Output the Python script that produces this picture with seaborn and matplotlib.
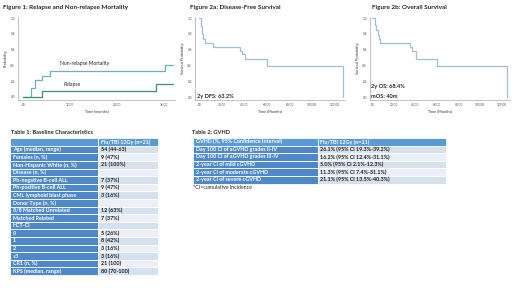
import matplotlib
matplotlib.use('Agg')
import matplotlib.pyplot as plt
from matplotlib.ticker import FuncFormatter
import seaborn as sns

# Figure 1: cumulative incidence, time in months
nrm_time = [0, 2.0, 3.1, 5.0, 7.0, 36.1, 38.2]
nrm_prob = [0, 0.12, 0.22, 0.27, 0.33, 0.40, 0.40]
rel_time = [0, 5.0, 34.0, 38.2]
rel_prob = [0, 0.07, 0.165, 0.165]

# Figure 2a / 2b: Kaplan-Meier estimates
dfs_time = [0, 1.5, 2.6, 3.8, 5.3, 12.6, 36.2, 37.7, 40.6, 60.3, 126.8]
dfs_surv = [1.0, 0.90, 0.80, 0.74, 0.68, 0.632, 0.59, 0.55, 0.48, 0.39, 0.0]
os_time = [0, 2.5, 3.4, 5.0, 6.2, 7.1, 35.0, 36.5, 40.2, 60.3, 124.7]
os_surv = [1.0, 0.91, 0.85, 0.79, 0.73, 0.684, 0.64, 0.58, 0.48, 0.39, 0.0]

# Table 1
t1_labels = ['', 'Age (median, range)', 'Females (n, %)', 'Non-Hispanic White (n, %)',
             'Disease (n, %)', 'Ph-negative B-cell ALL', 'Ph-positive B-cell ALL',
             'CML lymphoid blast phase', 'Donor Type (n, %)', '8/8 Matched Unrelated',
             'Matched Related', 'HCT-CI', '0', '1', '2', '\u22653', 'CR1 (n, %)',
             'KPS (median, range)']
t1_values = ['Flu/TBI 12Gy (n=21)', '54 (44-63)', '9 (47%)', '21 (100%)', '',
             '7 (37%)', '9 (47%)', '3 (16%)', '', '12 (63%)', '7 (37%)', '',
             '5 (26%)', '8 (42%)', '3 (16%)', '3 (16%)', '21 (100)', '80 (70-100)']

# Table 2
t2_labels = ['GVHD (%, 95% Confidence Interval)', 'Day 100 CI of aGVHD grades II-IV',
             'Day 100 CI of aGVHD grades III-IV', '2-year CI of mild cGVHD',
             '2-year CI of moderate cGVHD', '2-year CI of severe cGVHD']
t2_values = ['Flu/TBI 12Gy (n=21)', '26.1% (95% CI 19.3%-39.2%)',
             '16.2% (95% CI 12.4%-31.1%)', '5.0% (95% CI 2.1%-12.3%)',
             '11.3% (95% CI 7.4%-31.1%)', '21.1% (95% CI 13.5%-40.3%)']

sns.set_style('white')
plt.rcParams['font.family'] = ['Lato', 'DejaVu Sans']

W, H = 520, 292
HEAD = '#5b9bd5'
LEFT = '#4f88c9'
ALT = ['#d6e1f0', '#ebf0f8']
NRM_C = '#6aafc4'
REL_C = '#3e8b86'
SURV_C = '#a2bfd9'

fig = plt.figure(figsize=(W / 100, H / 100), dpi=100)


def box(l, t, r, b):
    return [l / W, 1 - b / H, (r - l) / W, (b - t) / H]


def ftext(x, y, s, **kw):
    fig.text(x / W, 1 - y / H, s, va='center', **kw)


def style_axes(ax, xticks, xlabel, ylabel):
    ax.set_xticks(xticks)
    ax.set_yticks([0, 0.2, 0.4, 0.6, 0.8, 1.0])
    ax.xaxis.set_major_formatter(FuncFormatter(lambda v, p: '.00' if v == 0 else '%.2f' % v))
    ax.yaxis.set_major_formatter(FuncFormatter(lambda v, p: '%.1f' % v))
    ax.tick_params(labelsize=2.3, length=1.2, width=0.4, pad=1, colors='#555555')
    for s in ['top', 'right']:
        ax.spines[s].set_visible(False)
    for s in ['left', 'bottom']:
        ax.spines[s].set_color('#aaaaaa')
        ax.spines[s].set_linewidth(0.5)
    ax.set_xlabel(xlabel, fontsize=2.7, labelpad=2, color='#333333')
    ax.set_ylabel(ylabel, fontsize=2.7, labelpad=2, color='#333333')


# Figure 1
ax1 = fig.add_axes(box(18, 17, 175, 100))
sns.lineplot(x=nrm_time, y=nrm_prob, drawstyle='steps-post', color=NRM_C, lw=0.9, ax=ax1)
sns.lineplot(x=rel_time, y=rel_prob, drawstyle='steps-post', color=REL_C, lw=0.9, ax=ax1)
ax1.set_xlim(-1.2, 38.75)
ax1.set_ylim(-0.038, 1.013)
style_axes(ax1, [0, 12, 24, 36], 'Time (months)', 'Probability')
ax1.text(9.5, 0.41, 'Non-relapse Mortality', fontsize=3.6, color='#222222')
ax1.text(10.3, 0.14, 'Relapse', fontsize=3.6, color='#222222')
ftext(3, 7, 'Figure 1: Relapse and Non-relapse Mortality', fontsize=4.6, fontweight='bold')

# Figure 2a
ax2 = fig.add_axes(box(195, 17, 345, 99.5))
sns.lineplot(x=dfs_time, y=dfs_surv, drawstyle='steps-post', color=SURV_C, lw=0.9, ax=ax2)
ax2.set_xlim(-3.5, 128.9)
ax2.set_ylim(-0.028, 1.013)
style_axes(ax2, [0, 20, 40, 60, 80, 100, 120], 'Time (Months)', 'Survival Probability')
ax2.text(-1.5, 0.015, '2y DFS: 63.2%', fontsize=4.1, fontweight='bold', va='center')
ftext(190, 7, 'Figure 2a: Disease-Free Survival', fontsize=4.6, fontweight='bold')

# Figure 2b
ax3 = fig.add_axes(box(370, 17, 510, 99.5))
sns.lineplot(x=os_time, y=os_surv, drawstyle='steps-post', color=SURV_C, lw=0.9, ax=ax3)
ax3.set_xlim(-2.1, 127.8)
ax3.set_ylim(-0.028, 1.013)
style_axes(ax3, [0, 20, 40, 60, 80, 100, 120], 'Time (Months)', 'Survival Probability')
ax3.text(-1.0, 0.13, '2y OS: 68.4%', fontsize=4.1, fontweight='bold', va='center')
ax3.text(-1.0, 0.015, 'mOS: 40m', fontsize=4.1, fontweight='bold', va='center')
ftext(372, 7, 'Figure 2b: Overall Survival', fontsize=4.6, fontweight='bold')


def draw_table(ax, labels, values, widths, pads, fs):
    rows = [[a, b] for a, b in zip(labels, values)]
    tb = ax.table(cellText=rows, colWidths=widths, cellLoc='left', bbox=[0, 0, 1, 1])
    tb.auto_set_font_size(False)
    tb.set_fontsize(fs)
    for (r, c), cell in tb.get_celld().items():
        cell.set_edgecolor('white')
        cell.set_linewidth(0.6)
        cell.PAD = pads[c]
        txt = cell.get_text()
        txt.set_fontweight('bold')
        if r == 0:
            cell.set_facecolor(HEAD)
            txt.set_color('white')
        elif c == 0:
            cell.set_facecolor(LEFT)
            txt.set_color('white')
        else:
            cell.set_facecolor(ALT[(r - 1) % 2])
            txt.set_color('#1a1a1a')
    ax.axis('off')


tax1 = fig.add_axes(box(10, 138.3, 158, 275))
draw_table(tax1, t1_labels, t1_values, [0.593, 0.407], [0.03, 0.055], 3.9)
ftext(11, 133, 'Table 1: Baseline Characteristics', fontsize=4.1, fontweight='bold')

tax2 = fig.add_axes(box(193, 138, 446, 183.5))
draw_table(tax2, t2_labels, t2_values, [0.495, 0.505], [0.02, 0.015], 3.9)
ftext(192, 133, 'Table 2: GVHD', fontsize=4.1, fontweight='bold')
ftext(193, 187.5, '*CI=cumulative incidence', fontsize=3.8)

fig.savefig('out.png', dpi=100)
